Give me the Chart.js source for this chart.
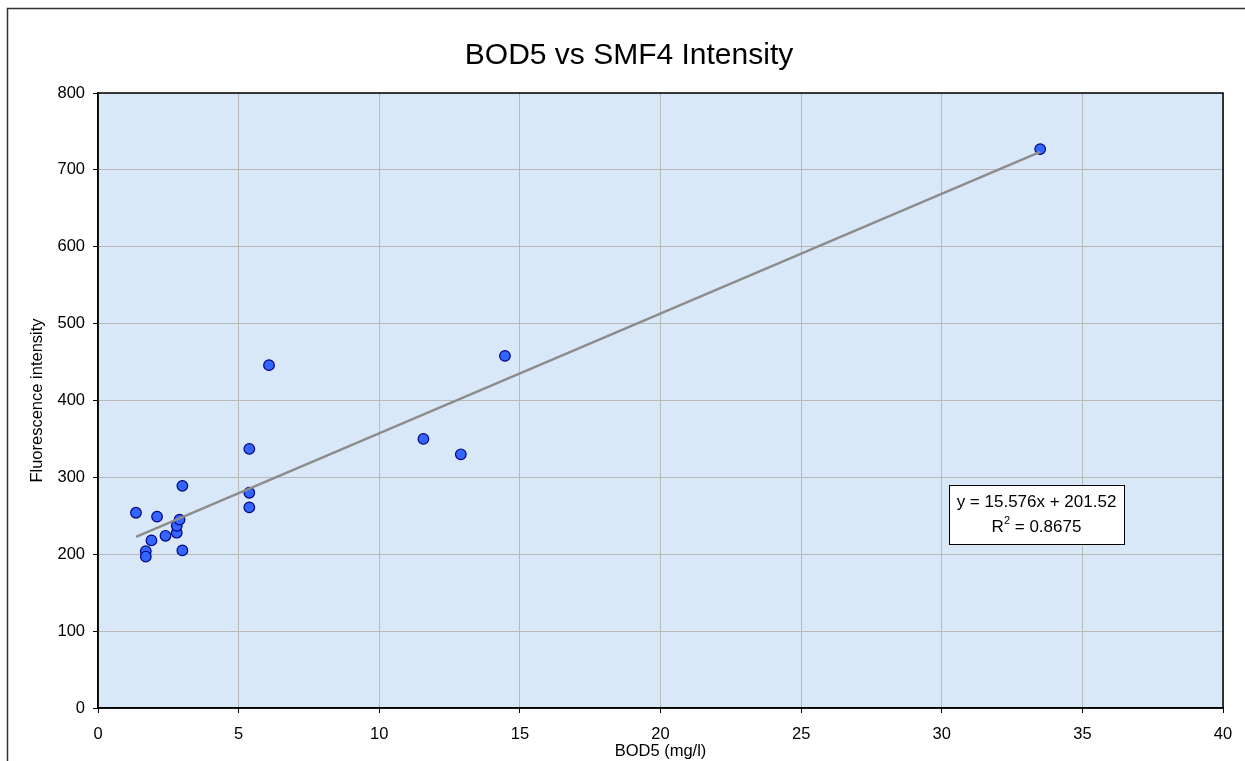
<!DOCTYPE html>
<html>
<head>
<meta charset="utf-8">
<script src="https://cdn.jsdelivr.net/npm/chart.js@4.4.0/dist/chart.umd.min.js"></script>
<style>
  html, body { margin: 0; padding: 0; background: #ffffff; }
  #wrap { width: 1245px; height: 761px; position: relative; }
</style>
</head>
<body>
<div id="wrap"><canvas id="c" width="1245" height="761"></canvas></div>
<script>
// ---- Data ----
const chartTitle = "BOD5 vs SMF4 Intensity";
const xAxisTitle = "BOD5 (mg/l)";
const yAxisTitle = "Fluorescence intensity";
const bodValues = [1.35, 2.1, 1.7, 1.7, 1.9, 2.4, 2.8, 2.8, 2.9, 3.0, 3.0, 5.38, 5.38, 5.38, 6.08, 11.57, 12.9, 14.47, 33.5];
const intensityValues = [254, 249, 204, 197, 218, 224, 228, 237, 245, 289, 205, 337, 280, 261, 446, 350, 330, 458, 727];
const trendSlope = 15.576;
const trendIntercept = 201.52;
const rSquared = "0.8675";
const xTicks = [0, 5, 10, 15, 20, 25, 30, 35, 40];
const yTicks = [0, 100, 200, 300, 400, 500, 600, 700, 800];

const points = bodValues.map((x, i) => ({ x: x, y: intensityValues[i] }));
const xMin = Math.min(...bodValues), xMax = Math.max(...bodValues);
const trendPoints = [xMin, xMax].map(x => ({ x: x, y: trendSlope * x + trendIntercept }));

const FONT = "'Liberation Sans', Arial, sans-serif";

const decor = {
  id: 'decor',
  beforeDraw(chart) {
    const { ctx, chartArea: a } = chart;
    ctx.save();
    ctx.fillStyle = '#ffffff';
    ctx.fillRect(0, 0, chart.width, chart.height);
    // outer frame
    ctx.strokeStyle = '#333333';
    ctx.lineWidth = 1.5;
    ctx.strokeRect(7.5, 8.5, chart.width + 20, chart.height + 20);
    // plot background
    ctx.fillStyle = '#d9e8f8';
    ctx.fillRect(a.left, a.top, a.right - a.left, a.bottom - a.top);
    ctx.restore();
  },
  afterDraw(chart) {
    const { ctx, chartArea: a } = chart;
    ctx.save();
    // plot border
    ctx.strokeStyle = '#000000';
    ctx.lineWidth = 1.5;
    ctx.strokeRect(a.left, a.top, a.right - a.left, a.bottom - a.top);
    // title
    ctx.fillStyle = '#000000';
    ctx.font = "30px " + FONT;
    ctx.textAlign = 'center';
    ctx.textBaseline = 'middle';
    ctx.fillText(chartTitle, 629, 56);
    // equation box
    const bx = 949, by = 485, bw = 175, bh = 59;
    ctx.fillStyle = '#ffffff';
    ctx.fillRect(bx, by, bw, bh);
    ctx.strokeStyle = '#000000';
    ctx.lineWidth = 1;
    ctx.strokeRect(bx + 0.5, by + 0.5, bw, bh);
    ctx.fillStyle = '#000000';
    ctx.font = "17px " + FONT;
    ctx.textAlign = 'center';
    ctx.fillText("y = " + trendSlope + "x + " + trendIntercept, bx + bw / 2, 502.5);
    // R^2 line
    ctx.textAlign = 'left';
    const p1 = "R", p3 = " = " + rSquared;
    ctx.font = "17px " + FONT;
    const w1 = ctx.measureText(p1).width, w3 = ctx.measureText(p3).width;
    ctx.font = "11px " + FONT;
    const w2 = ctx.measureText("2").width;
    const total = w1 + w2 + w3;
    let sx = bx + bw / 2 - total / 2;
    ctx.font = "17px " + FONT;
    ctx.fillText(p1, sx, 527);
    ctx.font = "11px " + FONT;
    ctx.fillText("2", sx + w1, 521);
    ctx.font = "17px " + FONT;
    ctx.fillText(p3, sx + w1 + w2, 527);
    ctx.restore();
  }
};

new Chart(document.getElementById('c'), {
  data: {
    datasets: [
      {
        type: 'line',
        label: 'Trend',
        data: trendPoints,
        borderColor: '#8c8c8c',
        borderWidth: 2.5,
        pointRadius: 0,
        fill: false,
        order: 0
      },
      {
        type: 'scatter',
        label: 'BOD5',
        data: points,
        backgroundColor: '#3366ff',
        borderColor: '#000080',
        borderWidth: 1.2,
        pointRadius: 5.3,
        order: 1
      }
    ]
  },
  options: {
    responsive: false,
    animation: false,
    devicePixelRatio: 1,
    layout: { padding: { left: 13, right: 22, top: 93, bottom: 0 } },
    plugins: {
      legend: { display: false },
      tooltip: { enabled: false },
      title: { display: false }
    },
    scales: {
      x: {
        type: 'linear',
        min: 0, max: 40,
        afterBuildTicks(s) { s.ticks = xTicks.map(v => ({ value: v })); },
        afterFit(s) { s.height = 53; },
        ticks: { color: '#000', font: { family: FONT, size: 16.5 }, padding: 12, maxRotation: 0 },
        grid: { color: '#b9b9b9', lineWidth: 1, tickColor: '#000', tickLength: 5 },
        border: { color: '#000', width: 1.5 },
        title: { display: true, text: xAxisTitle, color: '#000', font: { family: FONT, size: 16.5 }, padding: { top: 0, bottom: 0 } }
      },
      y: {
        type: 'linear',
        min: 0, max: 800,
        afterBuildTicks(s) { s.ticks = yTicks.map(v => ({ value: v })); },
        afterFit(s) { s.width = 85; },
        ticks: { color: '#000', font: { family: FONT, size: 16.5 }, padding: 8 },
        grid: { color: '#b9b9b9', lineWidth: 1, tickColor: '#000', tickLength: 5 },
        border: { color: '#000', width: 1.5 },
        title: { display: true, text: yAxisTitle, color: '#000', font: { family: FONT, size: 16.5 }, padding: { top: 15, bottom: 0 } }
      }
    }
  },
  plugins: [decor]
});
</script>
</body>
</html>
